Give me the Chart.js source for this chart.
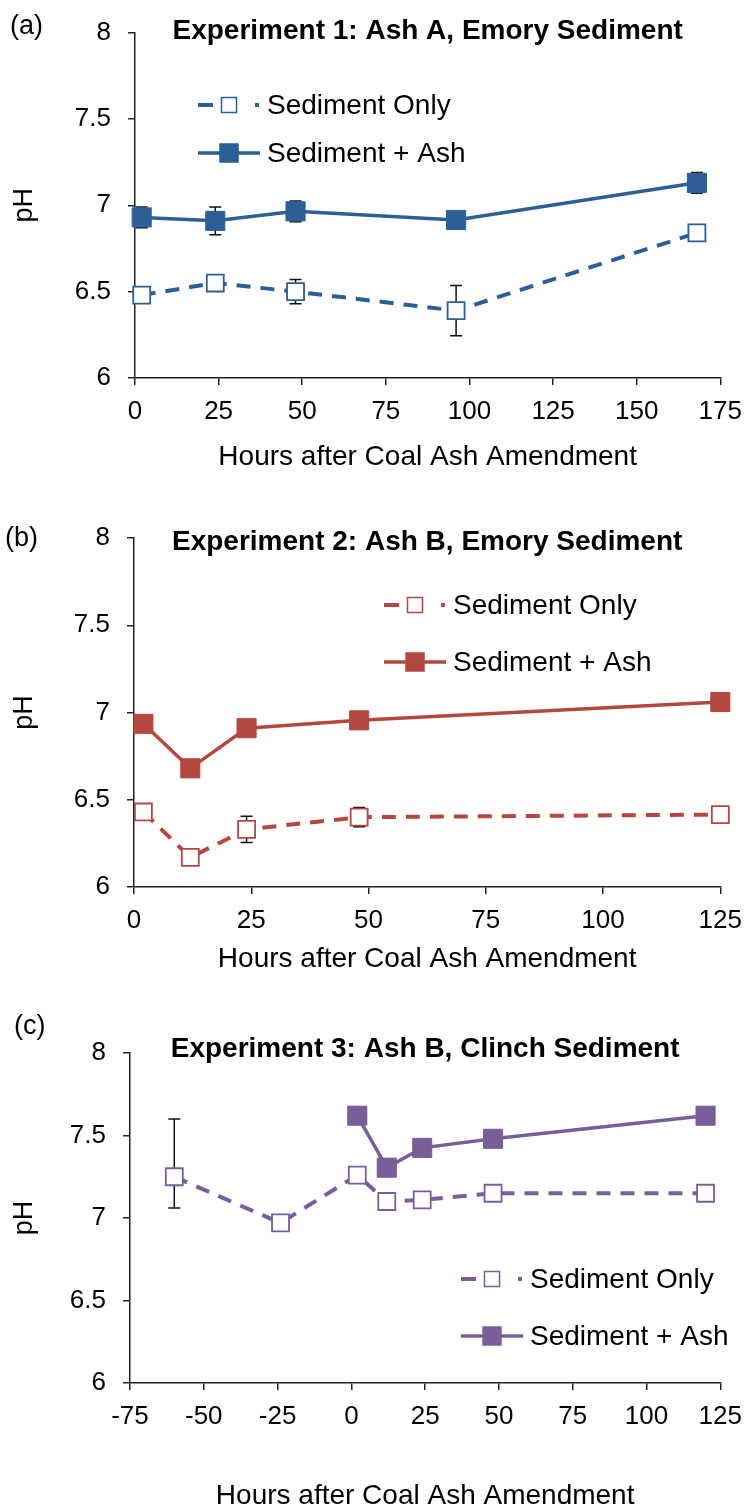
<!DOCTYPE html>
<html lang="en">
<head>
<meta charset="UTF-8">
<title>pH after Coal Ash Amendment</title>
<script src="https://cdn.jsdelivr.net/npm/chart.js"></script>
<style>
  body { margin: 0; background: #fff; }
  #page { position: relative; width: 753px; height: 1511px; }
  canvas { position: absolute; left: 0; }
  .tag { position: absolute; color: #000; z-index: 2; font-family: 'Liberation Sans', Arial, sans-serif;
         font-size: 27px; line-height: 32px; }
</style>
</head>
<body>
<div id="page">
  <canvas id="chartA" width="753" height="480" style="top:0px"></canvas>
  <canvas id="chartB" width="753" height="500" style="top:480px"></canvas>
  <canvas id="chartC" width="753" height="531" style="top:980px"></canvas>
  <div class="tag" style="left:10px; top:9px;">(a)</div>
  <div class="tag" style="left:5px; top:521px;">(b)</div>
  <div class="tag" style="left:14px; top:1009px;">(c)</div>
</div>

<script>
const FONT = "'Liberation Sans', Arial, sans-serif";
const TICK_SIZE = 26;
const TEXT_SIZE = 28;

const BLUE = '#2B5F95';
const RED = '#B3483F';
const PURPLE = '#785F99';
const xTitle = 'Hours after Coal Ash Amendment';
const seriesNames = ['Sediment Only', 'Sediment + Ash'];

// (a) Experiment 1: Ash A, Emory Sediment
const hoursA = [2, 24, 48, 96, 168];
const onlyA = [6.48, 6.55, 6.50, 6.39, 6.84];
const onlyErrA = [0.02, 0.02, 0.07, 0.145, 0.02];
const ashA = [6.93, 6.91, 6.965, 6.915, 7.13];
const ashErrA = [0.06, 0.08, 0.06, 0.02, 0.06];

// (b) Experiment 2: Ash B, Emory Sediment
const hoursB = [2, 12, 24, 48, 125];
const onlyB = [6.43, 6.17, 6.33, 6.40, 6.415];
const onlyErrB = [0.02, 0.02, 0.075, 0.055, 0.02];
const ashB = [6.935, 6.68, 6.91, 6.955, 7.06];
const ashErrB = [0.02, 0.02, 0.02, 0.02, 0.02];

// (c) Experiment 3: Ash B, Clinch Sediment
const hoursOnlyC = [-60, -24, 2, 12, 24, 48, 120];
const onlyC = [7.25, 6.97, 7.26, 7.10, 7.11, 7.15, 7.15];
const onlyErrUpC = [0.35, 0.02, 0.02, 0.02, 0.02, 0.02, 0.02];
const onlyErrDownC = [0.19, 0.02, 0.02, 0.02, 0.02, 0.02, 0.02];
const hoursAshC = [2, 12, 24, 48, 120];
const ashC = [7.62, 7.305, 7.425, 7.48, 7.62];
const ashErrC = [0.05, 0.02, 0.02, 0.02, 0.02];

// error bars, drawn under the markers
const errorBars = {
    id: 'errorBars',
    beforeDatasetsDraw(chart) {
        const ctx = chart.ctx;
        const yScale = chart.scales.y;
        ctx.save();
        ctx.strokeStyle = '#111';
        ctx.lineWidth = 1.5;
        chart.data.datasets.forEach((ds, i) => {
            const meta = chart.getDatasetMeta(i);
            meta.data.forEach((pt, j) => {
                const v = ds.data[j].y;
                const top = yScale.getPixelForValue(v + ds.errPlus[j]);
                const bot = yScale.getPixelForValue(v - ds.errMinus[j]);
                ctx.beginPath();
                ctx.moveTo(pt.x, top); ctx.lineTo(pt.x, bot);
                ctx.moveTo(pt.x - 6, top); ctx.lineTo(pt.x + 6, top);
                ctx.moveTo(pt.x - 6, bot); ctx.lineTo(pt.x + 6, bot);
                ctx.stroke();
            });
        });
        ctx.restore();
    }
};

// legend with a line + marker sample, placed inside the plot
const sampleLegend = {
    id: 'sampleLegend',
    afterDraw(chart, args, opts) {
        const ctx = chart.ctx;
        const x0 = opts.x;
        chart.data.datasets.forEach((ds, i) => {
            const y = opts.rows[i];
            const dashed = ds.borderDash.length > 0;
            ctx.save();
            ctx.strokeStyle = ds.borderColor;
            ctx.lineWidth = ds.borderWidth;
            ctx.beginPath();
            if (dashed) {
                ctx.moveTo(x0, y); ctx.lineTo(x0 + 15, y);
                ctx.moveTo(x0 + 57, y); ctx.lineTo(x0 + 61, y);
            } else {
                ctx.moveTo(x0, y); ctx.lineTo(x0 + 62, y);
            }
            ctx.stroke();
            const s = dashed ? 15 : 18;
            ctx.fillStyle = ds.pointBackgroundColor;
            ctx.fillRect(x0 + 31 - s / 2, y - s / 2, s, s);
            ctx.lineWidth = 1.5;
            ctx.strokeRect(x0 + 31 - s / 2, y - s / 2, s, s);
            ctx.fillStyle = '#000';
            ctx.font = TEXT_SIZE + 'px ' + FONT;
            ctx.textBaseline = 'middle';
            ctx.fillText(ds.label, x0 + 69, y + 1);
            ctx.restore();
        });
    }
};

function onlySeries(xs, ys, up, down, color) {
    return {
        label: seriesNames[0],
        data: xs.map((x, i) => ({x: x, y: ys[i]})),
        borderColor: color,
        borderWidth: 4,
        borderDash: [14, 10],
        pointStyle: 'rect',
        pointRadius: 12,
        pointBackgroundColor: '#fff',
        pointBorderColor: color,
        pointBorderWidth: 1.8,
        clip: false,
        errPlus: up,
        errMinus: down
    };
}

function ashSeries(xs, ys, err, color) {
    return {
        label: seriesNames[1],
        data: xs.map((x, i) => ({x: x, y: ys[i]})),
        borderColor: color,
        borderWidth: 3.5,
        borderDash: [],
        pointStyle: 'rect',
        pointRadius: 13.5,
        pointBackgroundColor: color,
        pointBorderColor: color,
        pointBorderWidth: 1,
        clip: false,
        errPlus: err,
        errMinus: err
    };
}

function makeChart(id, p) {
    const ctx = document.getElementById(id).getContext('2d');
    const H = ctx.canvas.height;
    const tlh = TEXT_SIZE * 1.2;
    const titleTop = p.titleCenter - tlh / 2;
    const titleBottom = p.plotTop - tlh - titleTop;
    const xTitleBottom = H - p.xTitleCenter - tlh / 2;
    return new Chart(ctx, {
        type: 'line',
        data: { datasets: p.datasets },
        plugins: [errorBars, sampleLegend],
        options: {
            responsive: false,
            animation: false,
            events: [],
            layout: { padding: { left: 0, right: p.padRight, top: 0, bottom: 0 } },
            plugins: {
                legend: { display: false },
                tooltip: { enabled: false },
                title: {
                    display: true,
                    text: p.title,
                    fullSize: false,
                    color: '#000',
                    font: { family: FONT, size: TEXT_SIZE, weight: 'bold' },
                    padding: { top: titleTop, bottom: titleBottom }
                },
                sampleLegend: { x: p.legendX, rows: p.legendRows }
            },
            scales: {
                x: {
                    type: 'linear',
                    min: p.xMin,
                    max: p.xMax,
                    ticks: { stepSize: 25, color: '#000', padding: 11, font: { family: FONT, size: TICK_SIZE } },
                    grid: { drawOnChartArea: false, drawTicks: true, tickLength: 7, color: '#222', lineWidth: 1.5 },
                    border: { color: '#222', width: 1.5 },
                    title: {
                        display: true,
                        text: xTitle,
                        color: '#000',
                        font: { family: FONT, size: TEXT_SIZE },
                        padding: { top: 0, bottom: xTitleBottom }
                    },
                    afterFit: s => { s.height = H - p.plotBottom; }
                },
                y: {
                    min: 6,
                    max: 8,
                    ticks: { stepSize: 0.5, color: '#000', padding: 17, font: { family: FONT, size: TICK_SIZE },
                             callback: v => String(v) },
                    grid: { drawOnChartArea: false, drawTicks: true, tickLength: 7, color: '#222', lineWidth: 1.5 },
                    border: { color: '#222', width: 1.5 },
                    title: {
                        display: true,
                        text: 'pH',
                        color: '#000',
                        font: { family: FONT, size: 27 },
                        padding: { top: 8, bottom: 0 }
                    },
                    afterFit: s => { s.width = p.yWidth; }
                }
            }
        }
    });
}

makeChart('chartA', {
    title: 'Experiment 1: Ash A, Emory Sediment',
    datasets: [onlySeries(hoursA, onlyA, onlyErrA, onlyErrA, BLUE), ashSeries(hoursA, ashA, ashErrA, BLUE)],
    xMin: 0, xMax: 175, yWidth: 135, padRight: 26,
    plotTop: 28, plotBottom: 378, titleCenter: 27, xTitleCenter: 457,
    legendX: 198, legendRows: [105, 153]
});

makeChart('chartB', {
    title: 'Experiment 2: Ash B, Emory Sediment',
    datasets: [onlySeries(hoursB, onlyB, onlyErrB, onlyErrB, RED), ashSeries(hoursB, ashB, ashErrB, RED)],
    xMin: 0, xMax: 125, yWidth: 134, padRight: 25,
    plotTop: 58, plotBottom: 407, titleCenter: 62, xTitleCenter: 479,
    legendX: 384, legendRows: [125, 182]
});

makeChart('chartC', {
    title: 'Experiment 3: Ash B, Clinch Sediment',
    datasets: [onlySeries(hoursOnlyC, onlyC, onlyErrUpC, onlyErrDownC, PURPLE), ashSeries(hoursAshC, ashC, ashErrC, PURPLE)],
    xMin: -75, xMax: 125, yWidth: 130, padRight: 20,
    plotTop: 73, plotBottom: 403, titleCenter: 69, xTitleCenter: 516,
    legendX: 461, legendRows: [299, 356]
});
</script>
</body>
</html>
